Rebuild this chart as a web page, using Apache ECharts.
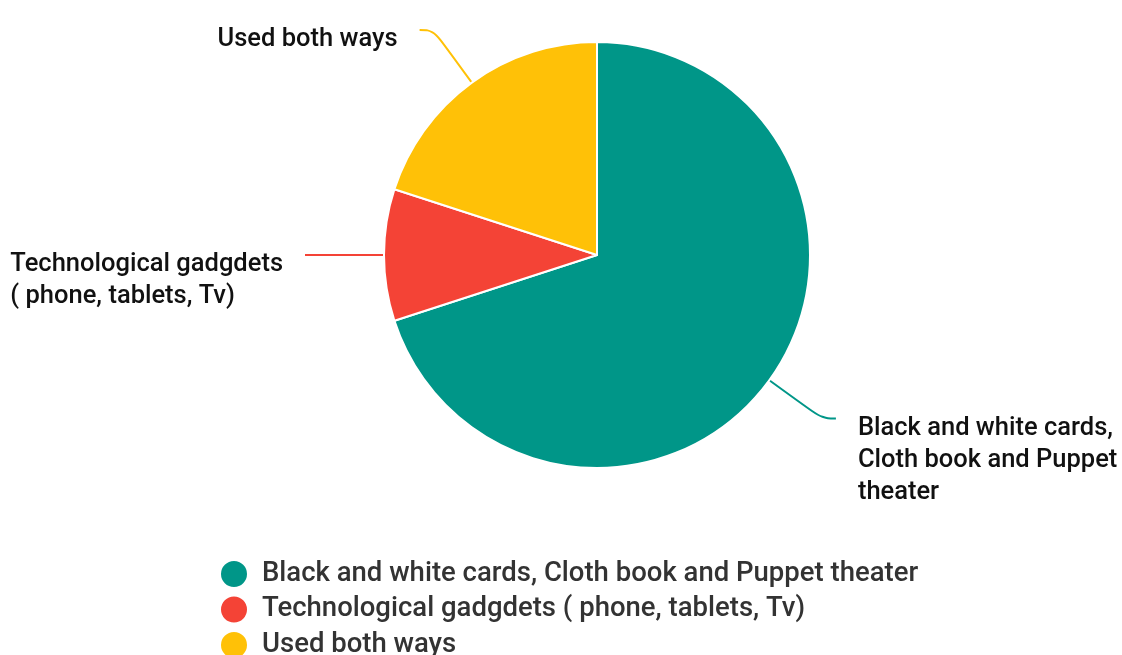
<!DOCTYPE html>
<html>
<head>
<meta charset="utf-8">
<script src="https://cdn.jsdelivr.net/npm/echarts@6/dist/echarts.min.js"></script>
<style>
  html, body { margin: 0; padding: 0; background: #fff; }
  #chart { width: 1122px; height: 655px; }
</style>
</head>
<body>
<div id="chart"></div>
<script>
// categories (legend names)
var categories = [
  'Black and white cards, Cloth book and Puppet theater',
  'Technological gadgdets ( phone, tablets, Tv)',
  'Used both ways'
];
// wrapped text shown beside the slices
var sliceLabels = [
  'Black and white cards,\nCloth book and Puppet\ntheater',
  'Technological gadgdets\n( phone, tablets, Tv)',
  'Used both ways'
];
// share of answers (%)
var shares = [70, 10, 20];
var colors = ['#009688', '#f44336', '#ffc107'];

var chart = echarts.init(document.getElementById('chart'));

var option = {
  color: colors,
  legend: {
    orient: 'vertical',
    left: 219,
    top: 559,
    height: 120,
    padding: 0,
    icon: 'circle',
    itemWidth: 28,
    itemHeight: 28,
    itemGap: 5.5,
    textStyle: {
      fontFamily: 'Roboto',
      fontSize: 27.5,
      lineHeight: 28,
      fontWeight: 500,
      color: '#333',
      padding: [0, 0, 0, 9]
    },
    data: categories
  },
  series: [{
    type: 'pie',
    center: [597, 255],
    radius: 213,
    startAngle: 90,
    clockwise: true,
    avoidLabelOverlap: false,
    itemStyle: { borderColor: '#fff', borderWidth: 2 },
    label: {
      show: true,
      position: 'outside',
      bleedMargin: 0,
      distanceToLabelLine: 22,
      fontFamily: 'Roboto',
      fontSize: 25.5,
      fontWeight: 500,
      lineHeight: 32,
      color: '#111',
      formatter: function (p) { return sliceLabels[p.dataIndex]; }
    },
    labelLine: {
      show: true,
      length: 65,
      length2: 14,
      smooth: 0.4,
      lineStyle: { width: 2 }
    },
    // keep the library's line, only left-align the wrapped lines
    labelLayout: function (p) {
      var pts = p.labelLinePoints;
      var end = pts[pts.length - 1];
      return {
        x: p.labelRect.x,
        y: end[1] - 6,
        align: 'left',
        verticalAlign: 'top',
        labelLinePoints: pts
      };
    },
    emphasis: { disabled: true },
    data: categories.map(function (name, i) {
      return { name: name, value: shares[i] };
    })
  }]
};

chart.setOption(option);
window.addEventListener('resize', function () { chart.resize(); });
</script>
</body>
</html>
